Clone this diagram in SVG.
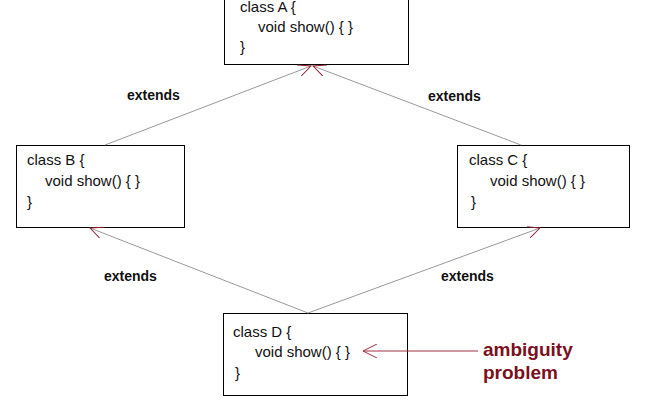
<svg xmlns="http://www.w3.org/2000/svg" width="650" height="400" viewBox="0 0 650 400">
<style>
.box{fill:#fff;stroke:#000;stroke-width:1}
.t{font-family:"Liberation Sans",Arial,sans-serif;font-size:15px;fill:#111}
.lbl{font-family:"Liberation Sans",Arial,sans-serif;font-size:14px;font-weight:bold;fill:#111}
.c{stroke:#999;stroke-width:1;fill:none}
</style>
<defs>
<marker id="ah" markerWidth="14" markerHeight="12" refX="13" refY="6" orient="auto" markerUnits="userSpaceOnUse"><path d="M0,0 L13,6 L0,12" fill="none" stroke="#8a2030" stroke-width="1"/></marker>
<marker id="rh" markerWidth="16" markerHeight="14" refX="1" refY="7" orient="auto" markerUnits="userSpaceOnUse"><path d="M15,0 L1,7 L15,14" fill="none" stroke="#a03040" stroke-width="1"/></marker>
</defs>
<rect width="650" height="400" fill="#fff"/>
<g id="A"><rect class="box" x="224.5" y="-5" width="184" height="69.5"/>
<text class="t" x="240" y="12">class A {</text><text class="t" x="258" y="32">void show() { }</text><text class="t" x="240" y="52">}</text></g>
<g id="B"><rect class="box" x="16.5" y="145.5" width="168" height="82"/>
<text class="t" x="27" y="165">class B {</text><text class="t" x="45" y="186">void show() { }</text><text class="t" x="27" y="207">}</text></g>
<g id="C"><rect class="box" x="457.5" y="145.5" width="172" height="82"/>
<text class="t" x="469" y="165">class C {</text><text class="t" x="490" y="186">void show() { }</text><text class="t" x="471" y="207">}</text></g>
<g id="D"><rect class="box" x="223.5" y="313.5" width="184" height="82"/>
<text class="t" x="233" y="337">class D {</text><text class="t" x="255" y="357">void show() { }</text><text class="t" x="235" y="378">}</text></g>
<g id="connectors">
<line class="c" x1="105" y1="145" x2="311" y2="66" marker-end="url(#ah)"/>
<line class="c" x1="521" y1="145" x2="313" y2="66" marker-end="url(#ah)"/>
<line class="c" x1="308" y1="313" x2="90" y2="228" marker-end="url(#ah)"/>
<line class="c" x1="308" y1="313" x2="540" y2="228" marker-end="url(#ah)"/>
<line x1="363" y1="351" x2="478" y2="351" stroke="#a03040" stroke-width="1" marker-start="url(#rh)"/>
<text class="lbl" x="127" y="100">extends</text>
<text class="lbl" x="428" y="101">extends</text>
<text class="lbl" x="104" y="281">extends</text>
<text class="lbl" x="441" y="281">extends</text>
</g>
<g id="note"><text x="483" y="356" font-family="'Liberation Sans',Arial,sans-serif" font-size="19" font-weight="bold" fill="#7a1020">ambiguity</text>
<text x="483" y="379" font-family="'Liberation Sans',Arial,sans-serif" font-size="19" font-weight="bold" fill="#7a1020">problem</text></g>
</svg>
